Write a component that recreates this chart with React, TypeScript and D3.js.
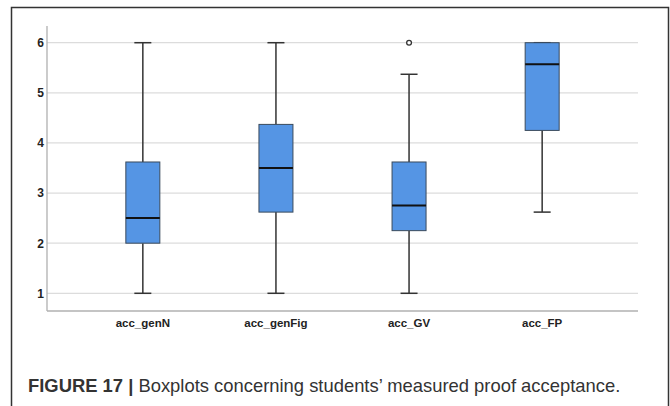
import * as d3 from 'd3';

// boxplot stats
const categories = ['acc_genN', 'acc_genFig', 'acc_GV', 'acc_FP'];
const mins = [1, 1, 1, 2.62];
const q1s = [2, 2.62, 2.25, 4.25];
const medians = [2.5, 3.5, 2.75, 5.57];
const q3s = [3.62, 4.37, 3.62, 6];
const maxs = [6, 6, 5.37, 6];
const outliers = [[], [], [6], []];
const yTicks = [1, 2, 3, 4, 5, 6];

const W = 670;
const H = 406;

const App = () => {
  const x = d3.scalePoint<string>().domain(categories).range([47, 638]).padding(0.72);
  const y = d3.scaleLinear().domain([1, 6]).range([293.3, 42.7]);
  const boxW = 34;
  const capW = 17;

  const boxes = categories.map((c, i) => ({
    cat: c,
    min: mins[i],
    q1: q1s[i],
    med: medians[i],
    q3: q3s[i],
    max: maxs[i],
    out: outliers[i],
  }));

  return (
    <svg width={W} height={H} style={{ position: 'absolute', left: 0, top: 0, background: '#fff' }}>
      {/* frame */}
      <path d={`M11.5,${H} V7.5 H668.5 V${H}`} fill="none" stroke="#333" strokeWidth={1.5} />

      {/* gridlines */}
      {yTicks.map(t => (
        <line key={t} x1={47} x2={638} y1={y(t)} y2={y(t)} stroke="#dcdcdc" strokeWidth={1.2} />
      ))}

      {/* axes */}
      <line x1={47} x2={47} y1={26} y2={311} stroke="#b0b0b0" strokeWidth={1.3} />
      <line x1={47} x2={638} y1={311} y2={311} stroke="#b0b0b0" strokeWidth={1.3} />

      {yTicks.map(t => (
        <text key={t} x={44} y={y(t)} dy="0.36em" textAnchor="end"
          fontFamily="Liberation Sans, Arial, sans-serif" fontWeight="bold" fontSize={12} fill="#222">
          {t}
        </text>
      ))}

      {boxes.map(b => {
        const cx = x(b.cat)!;
        return (
          <g key={b.cat}>
            <line x1={cx} x2={cx} y1={y(b.max)} y2={y(b.q3)} stroke="#333" strokeWidth={1.5} />
            <line x1={cx} x2={cx} y1={y(b.q1)} y2={y(b.min)} stroke="#333" strokeWidth={1.5} />
            <line x1={cx - capW / 2} x2={cx + capW / 2} y1={y(b.max)} y2={y(b.max)} stroke="#333" strokeWidth={1.5} />
            <line x1={cx - capW / 2} x2={cx + capW / 2} y1={y(b.min)} y2={y(b.min)} stroke="#333" strokeWidth={1.5} />
            <rect x={cx - boxW / 2} y={y(b.q3)} width={boxW} height={y(b.q1) - y(b.q3)}
              fill="#5595e4" stroke="#3a4a5c" strokeWidth={1} />
            <line x1={cx - boxW / 2} x2={cx + boxW / 2} y1={y(b.med)} y2={y(b.med)} stroke="#111" strokeWidth={2} />
            {b.out.map((o, k) => (
              <circle key={k} cx={cx} cy={y(o)} r={2.4} fill="#fff" stroke="#333" strokeWidth={1.3} />
            ))}
            <text x={cx} y={323} dy="0.36em" textAnchor="middle"
              fontFamily="Liberation Sans, Arial, sans-serif" fontWeight="bold" fontSize={11.5} fill="#222">
              {b.cat}
            </text>
          </g>
        );
      })}

      {/* caption */}
      <text x={28} y={392} fontFamily="Liberation Sans, Arial, Helvetica, sans-serif" fontSize={18.4} fill="#333">
        <tspan fontWeight="bold">FIGURE 17 | </tspan>
        <tspan>Boxplots concerning students’ measured proof acceptance.</tspan>
      </text>
    </svg>
  );
};

export default App;
